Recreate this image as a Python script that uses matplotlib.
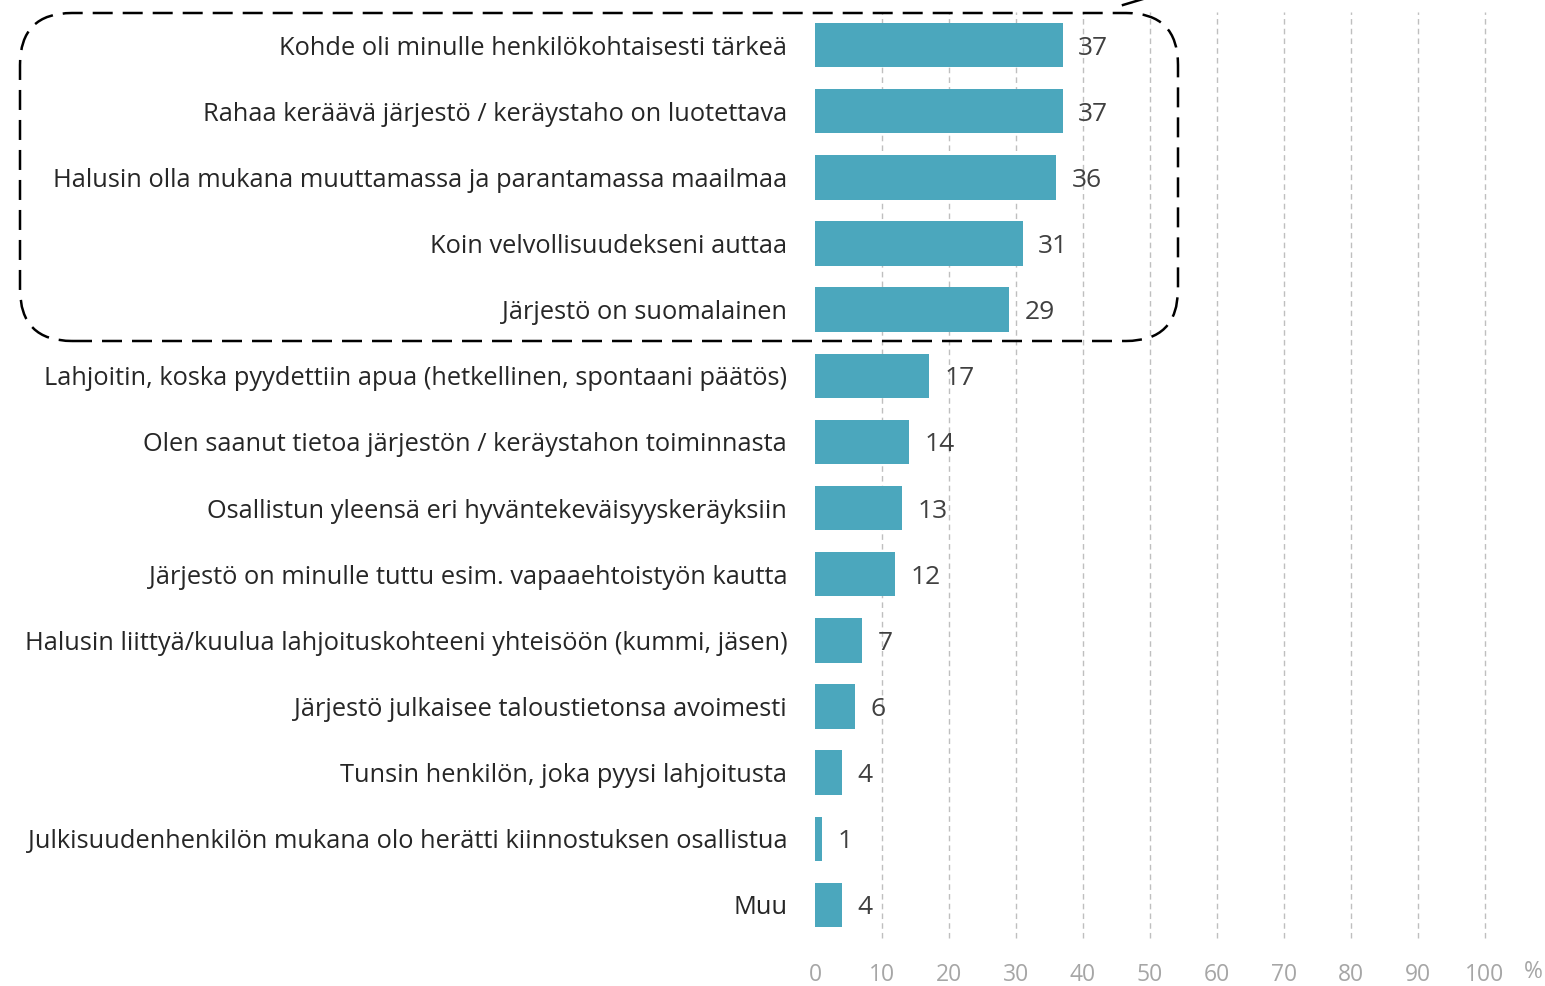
import matplotlib.pyplot as plt
from matplotlib.patches import FancyBboxPatch
from matplotlib.lines import Line2D
from matplotlib.transforms import IdentityTransform

plt.rcParams['font.family'] = ['Open Sans', 'DejaVu Sans']

categories = [
    'Kohde oli minulle henkilökohtaisesti tärkeä',
    'Rahaa kerääva järjestö / keräystaho on luotettava'.replace('kerääva', 'keräävä'),
    'Halusin olla mukana muuttamassa ja parantamassa maailmaa',
    'Koin velvollisuudekseni auttaa',
    'Järjestö on suomalainen',
    'Lahjoitin, koska pyydettiin apua (hetkellinen, spontaani päätös)',
    'Olen saanut tietoa järjestön / keräystahon toiminnasta',
    'Osallistun yleensä eri hyväntekeväisyyskeräyksiin',
    'Järjestö on minulle tuttu esim. vapaaehtoistyön kautta',
    'Halusin liittyä/kuulua lahjoituskohteeni yhteisöön (kummi, jäsen)',
    'Järjestö julkaisee taloustietonsa avoimesti',
    'Tunsin henkilön, joka pyysi lahjoitusta',
    'Julkisuudenhenkilön mukana olo herätti kiinnostuksen osallistua',
    'Muu',
]
values = [37, 37, 36, 31, 29, 17, 14, 13, 12, 7, 6, 4, 1, 4]
ticks = [0, 10, 20, 30, 40, 50, 60, 70, 80, 90, 100]

W, H = 1545, 986
fig = plt.figure(figsize=(W / 100, H / 100), dpi=100)
ax = fig.add_axes([815 / W, 1 - 938 / H, 670 / W, 926 / H])

y = list(range(len(categories)))
ax.barh(y, values, height=0.67, color='#4BA7BD', zorder=3)
for yi, v in zip(y, values):
    ax.text(v + 2.3, yi, str(v), va='center_baseline', ha='left', fontsize=19,
            color='#404040', zorder=4)

ax.set_xlim(0, 100)
ax.set_ylim(len(categories) - 0.5, -0.5)
ax.set_yticks(y)
ax.set_yticklabels(categories, fontsize=18.3, color='#262626')
ax.set_xticks(ticks)
ax.set_xticklabels([str(t) for t in ticks], fontsize=16.5, color='#A6A6A6')
ax.tick_params(axis='y', length=0, pad=20)
ax.tick_params(axis='x', length=0, pad=18)
for s in ax.spines.values():
    s.set_visible(False)
ax.xaxis.grid(True, color='#BFBFBF', linestyle=(0, (4, 3)), linewidth=1.0, zorder=0)
ax.set_axisbelow(True)
for gl in ax.get_xgridlines():
    gl.set_clip_on(False)
# no gridline at 0
ax.get_xgridlines()[0].set_visible(False)

fig.text(1533 / W, 1 - 972 / H, '%', fontsize=16.5, color='#A6A6A6',
         ha='center', va='center')

# dashed rounded highlight box (pixel coords)
box = FancyBboxPatch((20, H - 341), 1158, 328,
                     boxstyle='round,pad=0,rounding_size=52',
                     transform=IdentityTransform(), fill=False,
                     edgecolor='black', linewidth=1.8, linestyle=(0, (8, 4)))
fig.patches.append(box)
fig.lines.append(Line2D([1123, 1143], [H - 5, H + 1], transform=IdentityTransform(),
                        color='black', linewidth=1.8))

fig.savefig('out.png', dpi=100)
